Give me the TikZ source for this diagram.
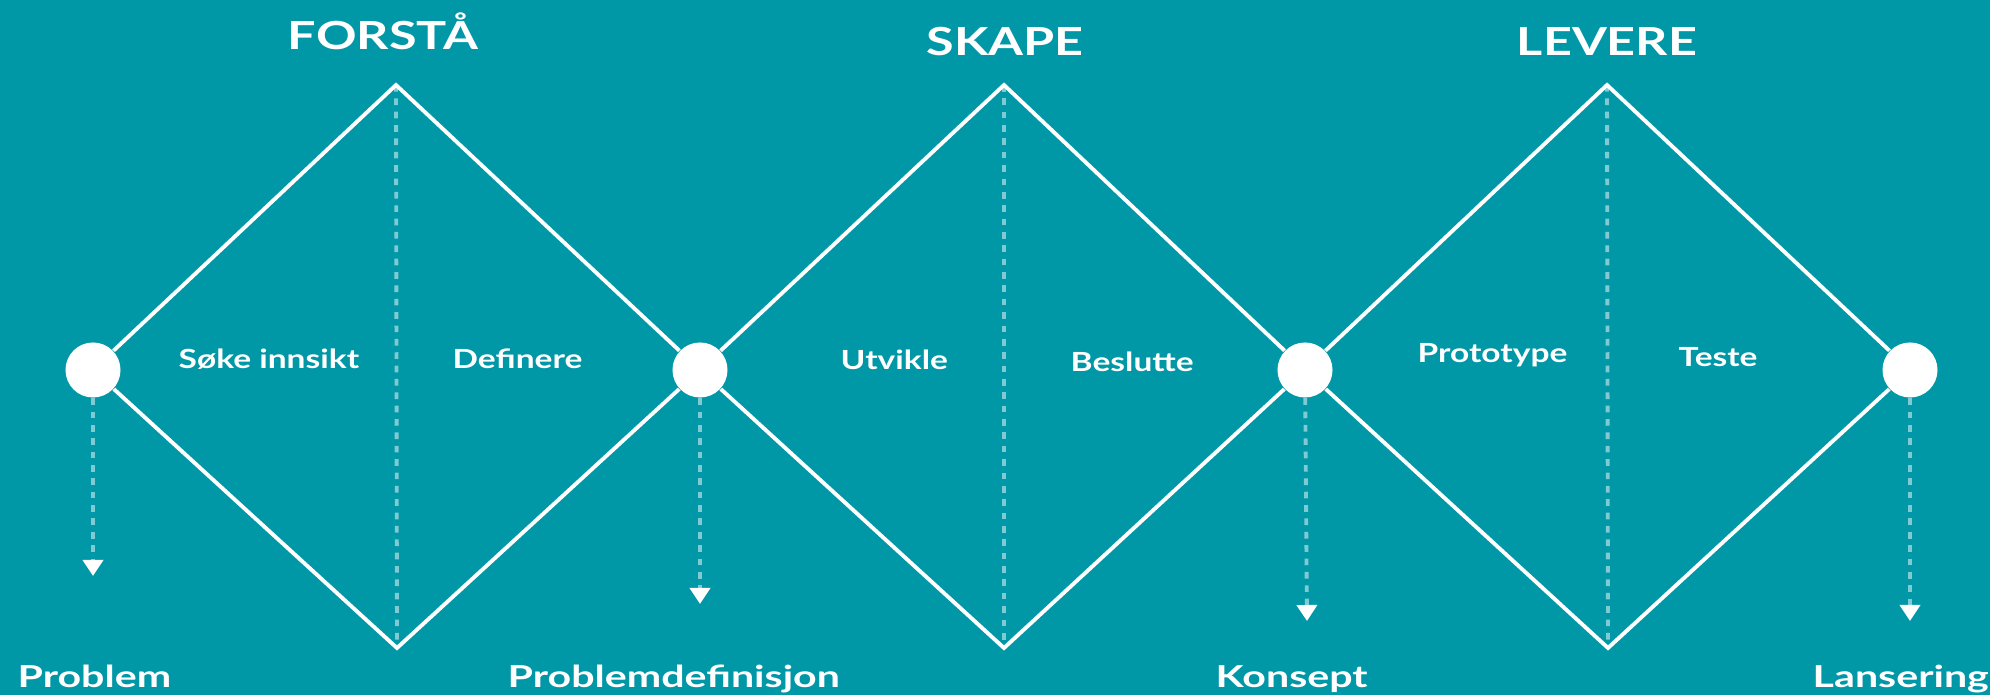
\documentclass[tikz,border=0pt]{standalone}
\usepackage{fontspec}
\setmainfont{Lato}
\usetikzlibrary{arrows.meta}
\definecolor{teal0}{RGB}{0,151,167}
\definecolor{dotc}{RGB}{128,203,211}
\newcommand{\widetxt}[2]{\scalebox{#1}[1]{#2}}
\begin{document}
\begin{tikzpicture}[x=0.01cm,y=-0.01cm,
  milestone/.style={circle,fill=white,minimum size=0.55cm,inner sep=0pt},
  diaedge/.style={draw=white,line width=1.1pt,line join=miter},
  guideline/.style={draw=dotc,line width=1.1pt,dash pattern=on 1.9pt off 1.9pt},
  dropline/.style={guideline,-{Triangle[width=0.2cm,length=0.16cm,color=white]}},
  phasetitle/.style={text=white,font=\bfseries\fontsize{11}{13}\selectfont,anchor=base,inner sep=0pt},
  phaselbl/.style={text=white,font=\bfseries\fontsize{7.5}{9}\selectfont,anchor=base west,inner sep=0pt},
  outlbl/.style={text=white,font=\bfseries\fontsize{8.6}{10}\selectfont,anchor=base west,inner sep=0pt}]
\fill[teal0] (0,0) rectangle (1990,695);
\useasboundingbox (0,0) rectangle (1990,695);
% milestones
\node[milestone] (c0) at (93,370) {};
\node[milestone] (c1) at (700,370) {};
\node[milestone] (c2) at (1305,370) {};
\node[milestone] (c3) at (1910,370) {};
% diamond tips
\coordinate (t1) at (396,85);
\coordinate (t2) at (1004,85);
\coordinate (t3) at (1607,85);
\coordinate (b1) at (397,648);
\coordinate (b2) at (1004,648);
\coordinate (b3) at (1608,648);
% guides
\draw[guideline] (t1) -- (b1);
\draw[guideline] (t2) -- (b2);
\draw[guideline] (t3) -- (b3);
% diamonds
\draw[diaedge] (c0) -- (t1) -- (c1);
\draw[diaedge] (c0) -- (b1) -- (c1);
\draw[diaedge] (c1) -- (t2) -- (c2);
\draw[diaedge] (c1) -- (b2) -- (c2);
\draw[diaedge] (c2) -- (t3) -- (c3);
\draw[diaedge] (c2) -- (b3) -- (c3);
% drops
\coordinate (e0) at (93,576);
\coordinate (e1) at (700,604);
\coordinate (e2) at (1307,621);
\coordinate (e3) at (1910,621);
\draw[dropline] (c0) -- (e0);
\draw[dropline] (c1) -- (e1);
\draw[dropline] (c2) -- (e2);
\draw[dropline] (c3) -- (e3);
% titles
\node[phasetitle] (h1) at (383,50) {\widetxt{1.3}{FORSTÅ}};
\node[phasetitle] (h2) at (1005,56) {\widetxt{1.3}{SKAPE}};
\node[phasetitle] (h3) at (1607,56) {\widetxt{1.3}{LEVERE}};
% phase labels
\node[phaselbl] (m1) at (178,369) {\widetxt{1.27}{Søke innsikt}};
\node[phaselbl] (m2) at (452,369) {\widetxt{1.27}{Definere}};
\node[phaselbl] (m3) at (840,370) {\widetxt{1.27}{Utvikle}};
\node[phaselbl] (m4) at (1070,372) {\widetxt{1.27}{Beslutte}};
\node[phaselbl] (m5) at (1417,363) {\widetxt{1.27}{Prototype}};
\node[phaselbl] (m6) at (1678,367) {\widetxt{1.27}{Teste}};
% outcomes
\node[outlbl] (o1) at (17,688) {\widetxt{1.36}{Problem}};
\node[outlbl] (o2) at (507,688) {\widetxt{1.36}{Problemdefinisjon}};
\node[outlbl] (o3) at (1215,688) {\widetxt{1.36}{Konsept}};
\node[outlbl] (o4) at (1812,688) {\widetxt{1.36}{Lansering}};
\end{tikzpicture}
\end{document}
